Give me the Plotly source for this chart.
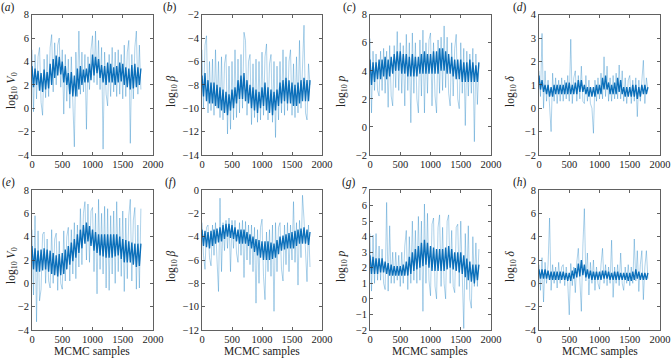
import plotly.graph_objects as go

W, H = 671, 360

# x positions (MCMC sample index), one value every 25 samples
samples = list(range(0, 1801, 25))

# ---- panel (a) log10 V0 ----
core_a = [3.6, 1.8, 3.4, 2.0, 3.2, 1.5, 3.0, 1.4, 3.3, 1.6, 3.1, 1.7,
          3.8, 2.0, 4.2, 2.6, 4.5, 2.8, 4.4, 2.9, 4.0, 2.2, 3.6, 2.0,
          3.0, 1.2, 3.1, 1.0, 2.8, 1.0, 3.4, 1.6, 3.6, 2.0, 3.3, 2.2,
          3.4, 2.2, 3.8, 2.4, 4.6, 2.8, 4.4, 3.0, 4.2, 2.6, 3.7, 2.2,
          3.6, 2.0, 3.9, 2.2, 3.8, 2.2, 3.5, 2.0, 3.6, 2.2, 3.9, 2.3,
          3.8, 2.0, 3.5, 1.8, 3.4, 1.6, 3.7, 1.7, 3.8, 1.8, 3.5, 2.0, 3.4]
trace_a = [5.0, -0.3, 4.6, 0.8, 4.4, 5.2, 0.5, -0.6, 4.2, 0.9, 4.6, 1.0,
           5.2, 6.3, 1.4, 5.6, 2.0, 5.4, 6.0, 1.8, 5.0, -0.5, 4.6, 0.6,
           4.2, 0.0, 4.4, 0.4, -3.3, 4.8, 1.0, 6.6, 1.2, 4.8, 1.4, 4.6,
           -1.8, 4.4, 1.6, 5.0, 6.2, 2.2, 6.6, 2.0, 5.8, 1.6, 5.2, -3.5,
           4.8, 1.2, 0.2, 4.6, 1.0, 5.2, 1.4, 4.8, 1.0, 5.0, 1.2, 4.6,
           0.8, 5.4, 1.0, 4.8, 5.8, -3.0, 4.6, 0.8, 5.2, 6.6, 1.2, 5.4, 1.6]

# ---- panel (b) log10 beta ----
core_b = [-7.2, -9.0, -7.0, -9.4, -7.6, -9.6, -7.8, -9.6, -7.8, -9.8, -8.0, -10.0,
          -8.2, -10.2, -8.4, -10.4, -8.6, -10.6, -8.8, -10.2, -8.4, -10.0, -8.2, -9.6,
          -7.6, -9.2, -7.2, -9.2, -7.0, -9.4, -7.6, -9.6, -8.0, -10.0, -8.2, -10.2,
          -8.4, -10.4, -8.6, -10.0, -8.2, -9.8, -7.8, -10.2, -8.2, -10.4, -8.4, -10.6,
          -8.6, -10.2, -8.4, -9.8, -7.8, -9.6, -7.6, -9.4, -7.4, -9.6, -7.6, -9.6,
          -7.8, -9.8, -8.0, -9.8, -7.8, -9.6, -7.6, -9.4, -7.4, -9.4, -7.6, -9.4, -7.6]
trace_b = [-5.0, -10.0, -4.6, -3.8, -10.4, -6.0, -10.2, -5.8, -10.6, -5.0, -10.0, -6.0,
           -10.8, -5.6, -11.0, -6.2, -5.4, -12.2, -6.4, -11.8, -6.0, -11.0, -5.0, -10.8,
           -5.8, -10.4, -5.4, -10.0, -3.5, -4.2, -10.6, -6.0, -5.4, -11.4, -6.2, -10.8,
           -5.8, -11.2, -6.0, -11.0, -5.2, -10.6, -5.6, -4.5, -11.0, -6.2, -5.4, -11.2,
           -6.0, -12.5, -6.4, -11.0, -6.0, -10.4, -5.0, -10.6, -5.6, -10.2, -6.0, -5.0,
           -10.6, -6.2, -10.8, -5.6, -10.4, -4.2, -10.0, -5.8, -2.9, -10.4, -11.0, -6.2, -8.0]

# ---- panel (c) log10 p ----
core_c = [4.8, 3.0, 4.6, 3.2, 4.6, 3.4, 4.8, 3.4, 4.8, 3.6, 5.0, 3.4,
          4.8, 3.6, 5.0, 3.8, 5.2, 4.0, 5.4, 4.0, 5.4, 3.8, 5.2, 3.8,
          5.2, 3.6, 5.0, 3.6, 5.2, 3.6, 5.0, 3.6, 5.0, 3.8, 5.2, 3.8,
          5.4, 3.8, 5.2, 3.8, 5.2, 3.8, 5.4, 3.8, 5.4, 3.8, 5.6, 4.0,
          5.6, 4.0, 5.4, 3.8, 5.2, 3.8, 5.0, 3.6, 4.8, 3.4, 4.8, 3.4,
          4.8, 3.2, 4.6, 3.2, 4.6, 3.2, 4.8, 3.2, 4.6, 3.2, 4.4, 3.2, 4.6]
trace_c = [6.3, 1.0, 5.4, 2.6, 5.2, 2.6, 2.2, 5.4, 2.6, 5.6, 2.4, 5.4,
           1.4, 5.8, 2.2, 1.5, 5.8, 2.8, 6.8, 2.6, 6.0, 2.4, 5.8, 1.5,
           6.6, 2.6, 6.0, 0.3, 6.7, 2.4, 6.0, 2.0, 1.0, 6.2, 2.2, 6.9,
           1.0, 6.0, 2.4, 6.2, 6.7, 1.5, 6.0, 2.2, 1.0, 6.2, 2.4, 6.4,
           2.6, 7.2, 2.8, 6.4, 2.4, 1.5, 6.0, 2.2, 5.6, 6.6, 2.0, 1.3,
           6.0, 2.4, 5.6, 0.1, 5.4, 2.2, 5.2, 2.4, 5.6, -1.05, 5.2, 1.6, 4.4]

# ---- panel (d) log10 delta ----
core_d = [1.4, 0.8, 1.2, 0.7, 1.0, 0.6, 1.0, 0.5, 0.9, 0.5, 1.0, 0.6,
          1.0, 0.6, 1.0, 0.6, 1.0, 0.6, 1.1, 0.6, 1.1, 0.6, 1.0, 0.6,
          1.1, 0.6, 1.2, 0.7, 1.2, 0.7, 1.0, 0.6, 0.9, 0.5, 0.9, 0.5,
          0.9, 0.5, 1.0, 0.6, 1.0, 0.6, 1.3, 0.8, 1.4, 0.8, 1.1, 0.6,
          1.0, 0.6, 1.1, 0.6, 1.3, 0.7, 1.2, 0.6, 0.9, 0.5, 0.9, 0.5,
          0.9, 0.5, 1.0, 0.5, 1.0, 0.4, 0.9, 0.5, 1.0, 0.6, 1.0, 0.6, 0.9]
trace_d = [1.6, 0.5, 3.2, 0.0, 1.6, 0.3, 1.2, 0.2, -1.0, 1.5, 0.3, 1.3,
           0.2, 1.2, 0.3, 1.3, 0.3, 1.2, 0.4, 1.4, 0.3, 2.95, 0.2, 1.3,
           1.6, 0.3, 1.4, 0.4, 1.8, 0.3, 0.2, 1.4, 0.3, 1.2, 0.2, 0.0,
           -1.07, 1.2, 0.3, 1.3, 0.4, 1.5, 0.4, 2.2, 0.5, 1.8, 0.3, 1.3,
           0.3, 1.4, 0.4, 1.5, 0.4, 1.85, 0.4, 1.6, 0.3, 1.3, 0.2, 1.2,
           1.4, 0.2, 1.2, 0.3, 1.3, -0.36, 1.2, 0.3, 1.4, 2.05, 0.2, 1.3, 0.8]

# ---- panel (e) log10 V0 ----
core_e = [3.2, 1.2, 3.0, 1.0, 2.8, 1.0, 2.9, 1.1, 3.0, 1.2, 2.9, 1.0,
          2.8, 0.8, 2.6, 0.7, 2.4, 0.6, 2.5, 0.7, 2.6, 0.8, 2.9, 1.2,
          3.2, 1.6, 3.5, 1.9, 3.8, 2.2, 4.2, 2.6, 4.6, 3.0, 5.0, 3.4,
          5.2, 3.6, 4.9, 3.2, 4.6, 2.8, 4.4, 2.6, 4.2, 2.4, 4.2, 2.3,
          4.2, 2.2, 4.2, 2.2, 4.2, 2.2, 4.2, 2.3, 4.2, 2.4, 4.0, 2.1,
          3.8, 1.8, 3.7, 1.8, 3.6, 1.8, 3.5, 1.6, 3.4, 1.4, 3.4, 1.5, 3.4]
trace_e = [4.6, -1.0, 5.8, -3.3, 4.5, -1.5, -0.5, 4.2, 4.4, 0.0, 3.8, 0.2,
           -0.4, 4.6, 0.0, 3.8, 4.3, -0.6, 3.6, 0.0, -0.5, 4.5, 0.2, 4.0,
           4.8, 0.2, 4.6, 0.8, 5.2, 0.4, 5.0, 1.4, 6.4, 1.6, 6.0, 7.0,
           2.0, 6.8, 1.8, 6.2, 6.5, 1.0, 6.0, -0.9, 7.2, 1.2, 6.0, 0.8,
           6.6, -0.4, 6.4, -0.6, 5.8, 0.8, 6.2, 0.0, 7.0, 1.0, 5.6, 0.6,
           6.2, -0.7, 5.6, 0.4, 5.8, 7.2, 0.2, 5.4, 6.5, -0.5, 5.0, -0.4, 6.4]

# ---- panel (f) log10 beta ----
core_f = [-3.4, -4.8, -3.5, -4.9, -3.6, -5.0, -3.5, -4.8, -3.4, -4.6, -3.3, -4.5,
          -3.2, -4.4, -3.0, -4.2, -2.9, -4.0, -2.9, -4.1, -3.0, -4.2, -3.2, -4.4,
          -3.4, -4.6, -3.4, -4.6, -3.4, -4.6, -3.6, -4.8, -3.8, -5.0, -4.0, -5.3,
          -4.2, -5.6, -4.3, -5.8, -4.4, -6.0, -4.4, -6.0, -4.4, -6.0, -4.5, -5.9,
          -4.6, -5.8, -4.3, -5.5, -4.0, -5.2, -3.9, -5.1, -3.8, -5.0, -3.7, -5.0,
          -3.6, -5.0, -3.5, -4.8, -3.4, -4.6, -3.3, -4.6, -3.2, -4.6, -3.4, -4.7, -3.6]
trace_f = [-2.8, -5.6, -6.8, -3.2, -3.0, -5.8, -6.5, -3.0, -5.6, -2.8, -6.0, -8.7,
           -0.7, -7.0, -2.8, -5.2, -2.6, -5.0, -2.4, -7.0, -2.6, -5.0, -2.6, -5.4,
           -6.2, -2.8, -5.6, -2.6, -7.5, -2.7, -6.0, -3.0, -6.4, -3.0, -7.0, -3.2,
           -9.7, -3.4, -8.0, -3.2, -2.5, -7.4, -9.4, -3.6, -7.0, -3.4, -7.4, -3.0,
           -10.4, -2.8, -7.0, -3.2, -2.8, -6.8, -7.8, -3.0, -6.4, -2.8, -7.0, -3.0,
           -6.0, -1.0, -6.2, -2.8, -8.15, -2.6, -5.8, -0.45, -2.5, -6.0, -7.86, -3.0, -6.6]

# ---- panel (g) log10 p ----
core_g = [2.8, 1.6, 2.7, 1.6, 2.6, 1.6, 2.6, 1.7, 2.6, 1.7, 2.4, 1.6,
          2.3, 1.5, 2.2, 1.5, 2.1, 1.5, 2.1, 1.5, 2.1, 1.5, 2.2, 1.5,
          2.4, 1.5, 2.7, 1.6, 3.0, 1.8, 3.2, 1.9, 3.4, 2.0, 3.6, 2.1,
          3.8, 2.2, 3.6, 2.0, 3.4, 1.8, 3.3, 1.8, 3.2, 1.8, 3.2, 1.8,
          3.2, 1.8, 3.3, 1.9, 3.4, 2.0, 3.2, 1.9, 3.0, 1.8, 3.0, 1.7,
          3.0, 1.6, 2.8, 1.4, 2.6, 1.2, 2.4, 1.1, 2.2, 1.0, 2.2, 1.2, 2.2]
trace_g = [4.2, 0.5, 4.1, 1.0, 4.2, 1.2, 3.4, 1.2, 3.2, 1.0, 0.6, 6.2,
           0.5, 4.7, 1.0, 3.0, 1.0, 3.0, 1.2, 2.8, 0.8, 3.0, 1.0, 3.4,
           4.4, 0.6, 4.0, 1.0, 5.0, 1.2, 4.4, 1.0, 5.3, 1.2, 5.0, -0.8,
           6.1, 1.0, 5.5, 1.2, 0.2, 4.8, 5.2, 0.8, 0.0, 4.6, 5.4, 0.8,
           4.6, 1.0, 0.0, 5.0, 5.4, 1.0, 4.4, 0.8, 0.4, 4.6, 4.8, 0.8,
           5.0, 0.6, -1.9, 4.2, 0.6, 4.7, 0.0, -0.6, 4.0, 0.8, 3.6, 0.8, 3.2]

# ---- panel (h) log10 delta ----
core_h = [1.2, 0.4, 1.2, 0.4, 1.2, 0.4, 1.1, 0.3, 1.0, 0.3, 1.0, 0.3,
          1.0, 0.3, 1.0, 0.3, 1.0, 0.3, 0.9, 0.2, 0.9, 0.2, 1.1, 0.4,
          1.3, 0.5, 1.7, 0.6, 2.0, 0.7, 1.6, 0.5, 1.2, 0.4, 1.1, 0.3,
          1.0, 0.3, 1.0, 0.3, 1.0, 0.3, 1.1, 0.4, 1.1, 0.4, 1.0, 0.3,
          0.9, 0.3, 1.0, 0.3, 1.0, 0.3, 0.9, 0.3, 0.9, 0.3, 0.9, 0.2,
          0.9, 0.2, 1.0, 0.3, 1.2, 0.4, 1.0, 0.3, 0.9, 0.3, 0.9, 0.3, 0.9]
trace_h = [1.6, -0.6, 2.2, -1.6, 1.8, 0.0, 1.6, 5.6, -0.6, 1.6, 0.0, 1.4,
           -0.4, 1.8, 0.0, 1.4, 1.6, -0.2, 1.4, 0.0, -2.7, 1.7, -0.2, 1.4,
           -0.8, 1.8, 3.0, 0.0, -2.4, 3.2, 6.4, 0.2, 2.6, -1.0, 1.8, 0.0,
           2.0, -0.6, 1.4, 0.0, -0.5, 1.6, 3.0, 0.0, 1.6, -0.2, 1.4, 0.0,
           3.7, -1.2, 1.4, 0.0, 1.6, -0.2, 2.6, 0.0, -0.6, 1.4, 0.0, 1.6,
           -0.2, 1.4, 0.0, 3.8, 0.2, 2.8, -0.7, 1.6, 2.8, -1.4, 1.4, 2.8, 0.4]

panel_letters = ["a", "b", "c", "d", "e", "f", "g", "h"]
y_titles = ["log<sub>10</sub> <i>V</i><sub>0</sub>", "log<sub>10</sub> <i>β</i>",
            "log<sub>10</sub> <i>p</i>", "log<sub>10</sub> <i>δ</i>",
            "log<sub>10</sub> <i>V</i><sub>0</sub>", "log<sub>10</sub> <i>β</i>",
            "log<sub>10</sub> <i>p</i>", "log<sub>10</sub> <i>δ</i>"]
y_ranges = [(-4, 8), (-14, -2), (-2, 8), (-2, 4), (-4, 8), (-12, 0), (-2, 7), (-4, 8)]
y_dticks = [2, 2, 2, 1, 2, 2, 1, 2]
x_ticks = [0, 500, 1000, 1500, 2000]
x_title = "MCMC samples"

cores = [core_a, core_b, core_c, core_d, core_e, core_f, core_g, core_h]
traces = [trace_a, trace_b, trace_c, trace_d, trace_e, trace_f, trace_g, trace_h]

# layout geometry (pixels)
col_px = [(32, 153), (202, 322), (370, 491), (539, 660)]
row_px = [(14.7, 155), (190, 330)]
label_x = [8, 170, 349, 520]
ylab_x = [12, 172, 342, 511]

FONT = "Liberation Serif, Times New Roman, serif"
CORE = "rgba(0,104,182,0.95)"
LIGHT = "rgba(0,114,189,0.38)"
AXC = "#3a3a3a"

fig = go.Figure()
annotations = []
layout = {}
for k in range(8):
    r, c = divmod(k, 4)
    n = k + 1
    xa = "x" if n == 1 else f"x{n}"
    ya = "y" if n == 1 else f"y{n}"
    fig.add_trace(go.Scatter(x=samples, y=traces[k], mode="lines",
                             line=dict(color=LIGHT, width=0.85),
                             xaxis=xa, yaxis=ya, showlegend=False, hoverinfo="skip"))
    fig.add_trace(go.Scatter(x=samples, y=cores[k], mode="lines",
                             line=dict(color=CORE, width=1.35),
                             xaxis=xa, yaxis=ya, showlegend=False, hoverinfo="skip"))

    x0, x1 = col_px[c]
    yt, yb = row_px[r]
    axname_x = "xaxis" if n == 1 else f"xaxis{n}"
    axname_y = "yaxis" if n == 1 else f"yaxis{n}"
    layout[axname_x] = dict(domain=[x0 / W, x1 / W], anchor=ya, range=[0, 2000],
                            tickvals=x_ticks, ticks="inside", ticklen=3, tickwidth=0.8,
                            tickcolor=AXC, showline=True, linecolor=AXC, linewidth=0.8,
                            mirror="ticks", showgrid=False, zeroline=False,
                            automargin=False,
                            tickfont=dict(family=FONT, size=10.5, color="#222"))
    lo, hi = y_ranges[k]
    layout[axname_y] = dict(domain=[1 - yb / H, 1 - yt / H], anchor=xa, range=[lo, hi],
                            dtick=y_dticks[k], tick0=0, ticks="inside", ticklen=3,
                            tickwidth=0.8, tickcolor=AXC, showline=True, linecolor=AXC,
                            linewidth=0.8, mirror="ticks", showgrid=False, zeroline=False,
                            automargin=False,
                            tickfont=dict(family=FONT, size=10.5, color="#222"))
    annotations.append(dict(text=f"(<i>{panel_letters[k]}</i>)", x=label_x[c] / W,
                            y=1 - (7 + 175 * r) / H, xref="paper", yref="paper",
                            showarrow=False, xanchor="center", yanchor="middle",
                            font=dict(family=FONT, size=11.5, color="#222")))
    annotations.append(dict(text=y_titles[k], x=ylab_x[c] / W,
                            y=1 - (91 + 175 * r) / H, xref="paper", yref="paper",
                            showarrow=False, textangle=-90, xanchor="center",
                            yanchor="middle",
                            font=dict(family=FONT, size=11.5, color="#222")))
    if r == 1:
        annotations.append(dict(text=x_title, x=(x0 + x1) / 2 / W, y=1 - 351 / H,
                                xref="paper", yref="paper", showarrow=False,
                                xanchor="center", yanchor="middle",
                                font=dict(family=FONT, size=11.5, color="#222")))

fig.update_layout(width=W, height=H, margin=dict(l=0, r=0, t=0, b=0),
                  paper_bgcolor="white", plot_bgcolor="white",
                  annotations=annotations, **layout)
fig.write_html("out.html", config={"displayModeBar": False, "staticPlot": True},
               post_script="document.body.style.margin='0';document.body.style.overflow='hidden';")
